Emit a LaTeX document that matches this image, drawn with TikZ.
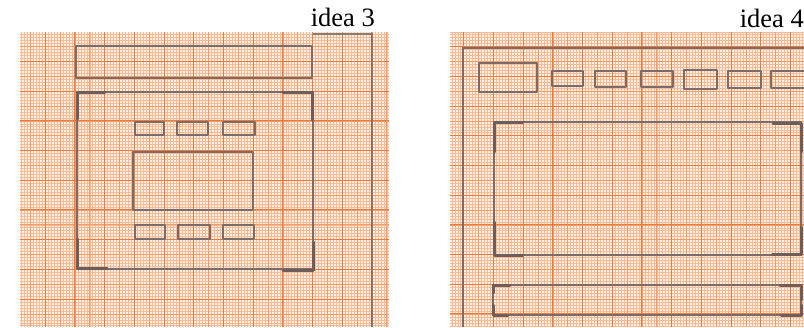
\documentclass[tikz,border=0pt]{standalone}
\usepackage{fontspec}
\setmainfont{Liberation Serif}
\definecolor{paperbg}{HTML}{FEEEE2}
\definecolor{gminor}{HTML}{F6BC97}
\definecolor{gmed}{HTML}{F29D69}
\definecolor{gmajor}{HTML}{EA7A3E}
\definecolor{pen}{HTML}{7C6B66}
\definecolor{pendark}{HTML}{6E5D58}
\newcommand\gpaper[6]{%
  \begin{scope}
    \clip (#1,#2) rectangle (#3,#4);
    \fill[paperbg] (#1,#2) rectangle (#3,#4);
    \foreach \k in {-2,...,128}{%
      \pgfmathsetmacro\xx{#5+\k*2.97}%
      \pgfmathsetmacro\yy{#6+\k*2.97}%
      \draw[gminor,line width=0.5pt] (\xx,#2) -- (\xx,#4);
      \draw[gminor,line width=0.5pt] (#1,\yy) -- (#3,\yy);
    }
    \foreach \k in {-1,...,26}{%
      \pgfmathsetmacro\xx{#5+\k*14.85}%
      \pgfmathsetmacro\yy{#6+\k*14.85}%
      \draw[gmed,line width=0.6pt] (\xx,#2) -- (\xx,#4);
      \draw[gmed,line width=0.6pt] (#1,\yy) -- (#3,\yy);
    }
    \foreach \k in {-1,...,13}{%
      \pgfmathsetmacro\xx{#5+\k*29.7}%
      \pgfmathsetmacro\yy{#6+\k*29.7}%
      \draw[gmajor,line width=0.9pt] (\xx,#2) -- (\xx,#4);
      \draw[gmajor,line width=0.9pt] (#1,\yy) -- (#3,\yy);
    }
  \end{scope}}
\tikzset{
  thinpen/.style={pen,line width=1.3pt,line cap=round,line join=round},
  boxpen/.style={pen,line width=2.4pt,line cap=round,line join=round},
  thickpen/.style={pendark,line width=3pt,line cap=round,line join=round},
  label/.style={font=\fontsize{26.5}{28}\selectfont,inner sep=0pt,text=black}
}
\begin{document}
\begin{tikzpicture}[x=1pt,y=-1pt]
\useasboundingbox (0,0) rectangle (804,327);
\fill[white] (0,0) rectangle (804,327);
% ---------- panel 1: idea 3 ----------
\gpaper{20}{32}{389}{327}{15.5}{31.7}
\node[label,anchor=base east] (t3) at (375,26.7) {idea 3};
\draw[pen,line width=1.8pt,opacity=0.85] (313,34) -- (372,34) -- (372,327);
\draw[boxpen,line width=1.7pt] (76,46) rectangle (312,78);
\draw[thinpen] (77,92) rectangle (313,269);
\draw[thickpen] (77,119) -- (77,92) -- (105,92);
\draw[thickpen] (283,92) -- (312,92) -- (312,120);
\draw[thickpen] (77,239) -- (77,268) -- (107,268);
\draw[thickpen] (283,270) -- (313,270) -- (313,242);
\draw[boxpen] (135,122) rectangle (164,135);
\draw[boxpen] (177,122) rectangle (208,135);
\draw[boxpen] (223,122) rectangle (255,135);
\draw[boxpen] (133,152) rectangle (253,210);
\draw[boxpen] (135,225) rectangle (165,239);
\draw[boxpen] (178,225) rectangle (210,239);
\draw[boxpen] (223,225) rectangle (254,239);
% ---------- panel 2: idea 4 ----------
\gpaper{450}{32}{804}{327}{434}{16.9}
\node[label,anchor=base east] (t4) at (804,27) {idea 4};
\draw[pen,line width=1.6pt] (804,48) -- (463,48) -- (463,327);
\draw[boxpen,line width=2.6pt] (479,63) rectangle (537,92);
\draw[boxpen,line width=2.6pt] (552,71) rectangle (583,86);
\draw[boxpen,line width=2.6pt] (595,71) rectangle (626,87);
\draw[boxpen,line width=2.6pt] (641,71) rectangle (673,87);
\draw[boxpen,line width=2.6pt] (684,70) rectangle (717,89);
\draw[boxpen,line width=2.6pt] (728,71) rectangle (761,88);
\draw[boxpen,line width=2.6pt] (771,71) rectangle (810,88);
\draw[thinpen] (494,122) rectangle (801,255);
\draw[thickpen] (494,152) -- (494,122) -- (523,122);
\draw[thickpen] (773,123) -- (801,123) -- (801,152);
\draw[thickpen] (494,222) -- (494,255) -- (523,255);
\draw[thickpen] (772,254) -- (801,254) -- (801,227);
\draw[thinpen] (493,285) rectangle (801,315);
\draw[thickpen] (493,293) -- (493,285) -- (510,285);
\draw[thickpen] (780,285) -- (801,285) -- (801,300);
\draw[thickpen] (493,305) -- (493,315) -- (508,315);
\draw[thickpen] (781,315) -- (801,315) -- (801,305);
\end{tikzpicture}
\end{document}
